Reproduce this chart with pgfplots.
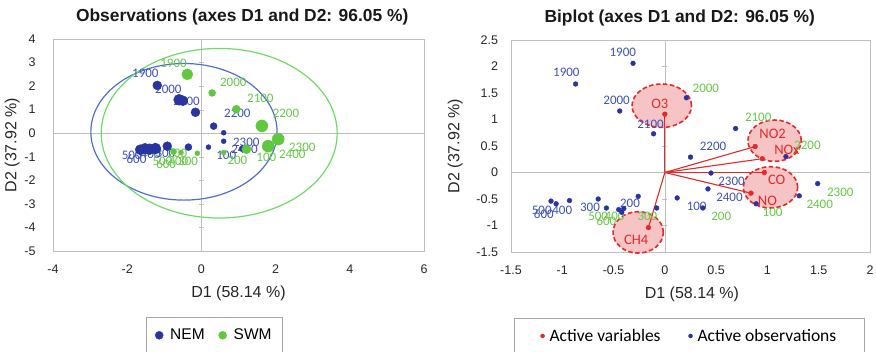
\documentclass[border=0pt]{standalone}
\usepackage{pgfplots}
\pgfplotsset{compat=1.18}
\usepackage{pgfplotstable}
\usepackage{fontspec}
\setmainfont{Liberation Sans}
\newfontfamily\calfont{Carlito}
\definecolor{nem}{RGB}{40,52,160}
\definecolor{swm}{RGB}{95,200,60}
\definecolor{nemell}{RGB}{80,110,210}
\definecolor{swmell}{RGB}{110,220,100}
\definecolor{lblue}{RGB}{60,80,190}
\definecolor{lgreen}{RGB}{100,200,70}
\definecolor{vred}{RGB}{230,40,40}
\definecolor{vfill}{RGB}{246,196,196}
\definecolor{axgray}{RGB}{190,190,190}

\pgfplotstableread{
x y r
-1.19 2.03 4.5
-0.60 1.42 5.5
-0.50 1.38 5
-0.16 0.89 4.5
0.33 0.30 3.5
0.60 0.02 2.5
0.60 -0.34 2.5
0.19 -0.59 2.5
-0.35 -0.59 3.5
-0.92 -0.55 4.5
-1.24 -0.65 5.5
-1.40 -0.68 5.5
-1.52 -0.66 5.5
-1.65 -0.70 5
1.10 -0.66 3
}\nemtab

\pgfplotstableread{
x y r
-0.38 2.50 5.5
0.29 1.71 3.5
0.94 1.02 4
1.63 0.31 6
2.07 -0.25 6
1.80 -0.55 6
1.21 -0.68 4.5
-0.11 -0.85 2.5
0.60 -0.82 2.5
-0.75 -0.78 3
-0.55 -0.82 2.5
}\swmtab

\pgfplotstableread{
x y
-0.31 2.06
-0.87 1.67
-0.44 1.16
-0.11 0.73
0.21 1.41
0.69 0.83
0.25 0.29
1.18 0.30
0.45 -0.01
0.42 -0.31
0.12 -0.48
0.37 -0.67
0.89 -0.59
1.31 -0.44
1.49 -0.21
-1.11 -0.54
-1.06 -0.59
-0.93 -0.53
-0.65 -0.50
-0.57 -0.67
-0.45 -0.70
-0.42 -0.75
-0.40 -0.68
-0.26 -0.45
-0.08 -0.67
}\obstab

\pgfplotsset{
  base/.style={scale only axis, anchor=south west, height=212pt,
    axis line style={axgray}, major tick length=0pt, minor tick length=0pt,
    tick label style={font=\fontsize{12.5}{14}\selectfont, text=black!85},
    /pgf/number format/assume math mode=true,
    label style={font=\fontsize{16}{18}\selectfont, text=black!85},
    title style={font=\bfseries\fontsize{17.4}{20}\selectfont, text=black!90, yshift=0pt},
    xticklabel style={yshift=-10.5pt},
    clip=false,
  },
  mid/.style={scale only axis, anchor=south west, height=212pt,
    axis lines=middle, axis line style={axgray,-}, xtick=\empty,
    yticklabels={}, tick align=center, major tick length=5pt,
    tick style={axgray}},
}
\tikzset{
  lbl/.style={font=\calfont\fontsize{13}{14}\selectfont, inner sep=0pt},
  vlbl/.style={font=\calfont\fontsize{14.5}{16}\selectfont, inner sep=0pt, text=vred},
  vell/.style={draw=vred, line width=1.6pt, dash pattern=on 4.5pt off 2.5pt, fill=vfill},
}

\begin{document}
\begin{tikzpicture}
\useasboundingbox (0,0) rectangle (876pt,352pt);

% ---------- left: observations ----------
\begin{axis}[mid, at={(53pt,101pt)}, width=371pt,
  xmin=-4, xmax=6, ymin=-5, ymax=4, ytick={-5,-4,-3,-2,-1,0,1,2,3,4}]
\end{axis}
\begin{axis}[base, at={(53pt,101pt)}, width=371pt,
  xmin=-4, xmax=6, ymin=-5, ymax=4,
  xtick={-4,-2,0,2,4,6}, ytick={-5,-4,-3,-2,-1,0,1,2,3,4},
  yticklabel style={xshift=-14pt},
  title={Observations (axes D1 and D2: 96.05 \%)},
  title style={at={(0.51,1.077)}, anchor=center},
  xlabel={D1 (58.14 \%)},
  xlabel style={at={(axis description cs:0.5,-0.198)}, anchor=center},
  ylabel={D2 (37.92 \%)},
  ylabel style={at={(axis description cs:-0.11,0.5)}, anchor=center},
  legend style={at={(0.435,-0.311)}, anchor=north, draw=gray!70,
    legend columns=2, font=\fontsize{15.5}{18}\selectfont,
    inner xsep=9pt, inner ysep=10pt,
    /tikz/every odd column/.append style={column sep=5pt},
    /tikz/every even column/.append style={column sep=12pt}},
]
\addlegendimage{only marks, mark=*, mark size=4pt, color=nem}
\addlegendentry{NEM}
\addlegendimage{only marks, mark=*, mark size=4pt, color=swm}
\addlegendentry{SWM}

\draw[nemell, line width=1.2pt] (axis cs:-0.47,0.06) ellipse [x radius=2.51, y radius=2.90];
\draw[swmell, line width=1.2pt] (axis cs:0.48,0.0) ellipse [x radius=3.18, y radius=3.60];

\begin{scope}[every node/.style={lbl, text=lblue}]
\node at (axis cs:-1.51,2.54) {1900};
\node at (axis cs:-0.89,1.86) {2000};
\node at (axis cs:-0.40,1.36) {2100};
\node at (axis cs:0.97,0.85) {2200};
\node at (axis cs:1.21,-0.38) {2300};
\node at (axis cs:1.16,-0.68) {2400};
\node at (axis cs:0.67,-0.93) {100};
\node at (axis cs:-1.88,-0.93) {500};
\node at (axis cs:-1.75,-1.10) {600};
\node at (axis cs:-1.37,-0.90) {400};
\node at (axis cs:-0.97,-0.85) {300};
\end{scope}
\begin{scope}[every node/.style={lbl, text=lgreen}]
\node at (axis cs:-0.75,2.97) {1900};
\node at (axis cs:0.86,2.16) {2000};
\node at (axis cs:1.59,1.48) {2100};
\node at (axis cs:2.28,0.85) {2200};
\node at (axis cs:2.72,-0.59) {2300};
\node at (axis cs:2.45,-0.89) {2400};
\node at (axis cs:1.75,-1.02) {100};
\node at (axis cs:0.97,-1.14) {200};
\node at (axis cs:-0.65,-0.85) {200};
\node at (axis cs:-1.05,-1.20) {500};
\node at (axis cs:-0.95,-1.32) {600};
\node at (axis cs:-0.62,-1.20) {400};
\node at (axis cs:-0.36,-1.20) {300};
\end{scope}

\addplot[forget plot, scatter, only marks, mark=*,
  scatter/use mapped color={draw=nem, fill=nem},
  visualization depends on={\thisrow{r}\as\rr},
  scatter/@pre marker code/.append style={/tikz/mark size=\rr pt}]
  table[x=x, y=y] {\nemtab};
\addplot[forget plot, scatter, only marks, mark=*,
  scatter/use mapped color={draw=swm, fill=swm},
  visualization depends on={\thisrow{r}\as\rr},
  scatter/@pre marker code/.append style={/tikz/mark size=\rr pt}]
  table[x=x, y=y] {\swmtab};
\end{axis}

% ---------- right: biplot ----------
\begin{axis}[mid, at={(511pt,100pt)}, width=359pt,
  xmin=-1.5, xmax=2, ymin=-1.5, ymax=2.5,
  ytick={-1.5,-1,-0.5,0,0.5,1,1.5,2,2.5}]
\end{axis}
\begin{axis}[base, at={(511pt,100pt)}, width=359pt,
  xmin=-1.5, xmax=2, ymin=-1.5, ymax=2.5,
  xtick={-1.5,-1,-0.5,0,0.5,1,1.5,2},
  ytick={-1.5,-1,-0.5,0,0.5,1,1.5,2,2.5},
  yticklabel style={xshift=-9.5pt},
  title={Biplot (axes D1 and D2: 96.05 \%)},
  title style={at={(0.47,1.077)}, anchor=center},
  xlabel={D1 (58.14 \%)},
  xlabel style={at={(axis description cs:0.504,-0.198)}, anchor=center},
  ylabel={D2 (37.92 \%)},
  ylabel style={at={(axis description cs:-0.155,0.5)}, anchor=center},
  legend style={at={(0.497,-0.311)}, anchor=north, draw=gray!70,
    legend columns=2, font=\calfont\fontsize{17.5}{20}\selectfont,
    inner xsep=26pt, inner ysep=9pt,
    /tikz/every odd column/.append style={column sep=3pt},
    /tikz/every even column/.append style={column sep=26pt}},
]
\addlegendimage{only marks, mark=*, mark size=2pt, color=vred}
\addlegendentry{Active variables}
\addlegendimage{only marks, mark=*, mark size=2pt, color=nem}
\addlegendentry{Active observations}

\draw[vell] (axis cs:-0.03,1.26) ellipse [x radius=0.29, y radius=0.41];
\draw[vell] (axis cs:-0.26,-1.13) ellipse [x radius=0.245, y radius=0.39];
\draw[vell] (axis cs:1.07,0.60) ellipse [x radius=0.26, y radius=0.39];
\draw[vell] (axis cs:1.03,-0.28) ellipse [x radius=0.265, y radius=0.39];

\addplot[forget plot, vred, line width=1.1pt] coordinates {(0,0) (0,1.10)};
\addplot[forget plot, vred, line width=1.1pt] coordinates {(0,0) (0.88,0.49)};
\addplot[forget plot, vred, line width=1.1pt] coordinates {(0,0) (0.95,0.26)};
\addplot[forget plot, vred, line width=1.1pt] coordinates {(0,0) (0.97,0.00)};
\addplot[forget plot, vred, line width=1.1pt] coordinates {(0,0) (0.84,-0.39)};
\addplot[forget plot, vred, line width=1.1pt] coordinates {(0,0) (-0.16,-1.04)};

\begin{scope}[every node/.style={lbl, text=lblue}]
\node at (axis cs:-0.41,2.26) {1900};
\node at (axis cs:-0.96,1.89) {1900};
\node at (axis cs:-0.47,1.36) {2000};
\node at (axis cs:-0.14,0.91) {2100};
\node at (axis cs:0.47,0.49) {2200};
\node at (axis cs:0.65,-0.17) {2300};
\node at (axis cs:0.63,-0.47) {2400};
\node at (axis cs:0.31,-0.64) {100};
\node at (axis cs:-1.20,-0.72) {500};
\node at (axis cs:-1.18,-0.79) {600};
\node at (axis cs:-1.00,-0.71) {400};
\node at (axis cs:-0.73,-0.66) {300};
\node at (axis cs:-0.34,-0.58) {200};
\end{scope}
\begin{scope}[every node/.style={lbl, text=lgreen}]
\node at (axis cs:0.40,1.58) {2000};
\node at (axis cs:0.91,1.04) {2100};
\node at (axis cs:1.39,0.51) {2200};
\node at (axis cs:1.71,-0.38) {2300};
\node at (axis cs:1.51,-0.60) {2400};
\node at (axis cs:1.05,-0.75) {100};
\node at (axis cs:0.55,-0.83) {200};
\node at (axis cs:-0.65,-0.83) {500};
\node at (axis cs:-0.57,-0.92) {600};
\node at (axis cs:-0.49,-0.83) {400};
\node at (axis cs:-0.17,-0.83) {300};
\end{scope}

\addplot[forget plot, only marks, mark=*, mark size=2.4pt, color=nem] table[x=x, y=y] {\obstab};
\addplot[forget plot, only marks, mark=*, mark size=2.4pt, color=vred] coordinates {
(0,1.10) (0.88,0.49) (0.95,0.26) (0.97,0.00) (0.84,-0.39) (-0.16,-1.04)};

\begin{scope}[every node/.style={vlbl}]
\node at (axis cs:-0.05,1.30) {O3};
\node at (axis cs:1.05,0.72) {NO2};
\node at (axis cs:1.19,0.43) {NOx};
\node at (axis cs:1.09,-0.13) {CO};
\node at (axis cs:1.00,-0.53) {NO};
\node at (axis cs:-0.28,-1.28) {CH4};
\end{scope}
\end{axis}
\end{tikzpicture}
\end{document}
